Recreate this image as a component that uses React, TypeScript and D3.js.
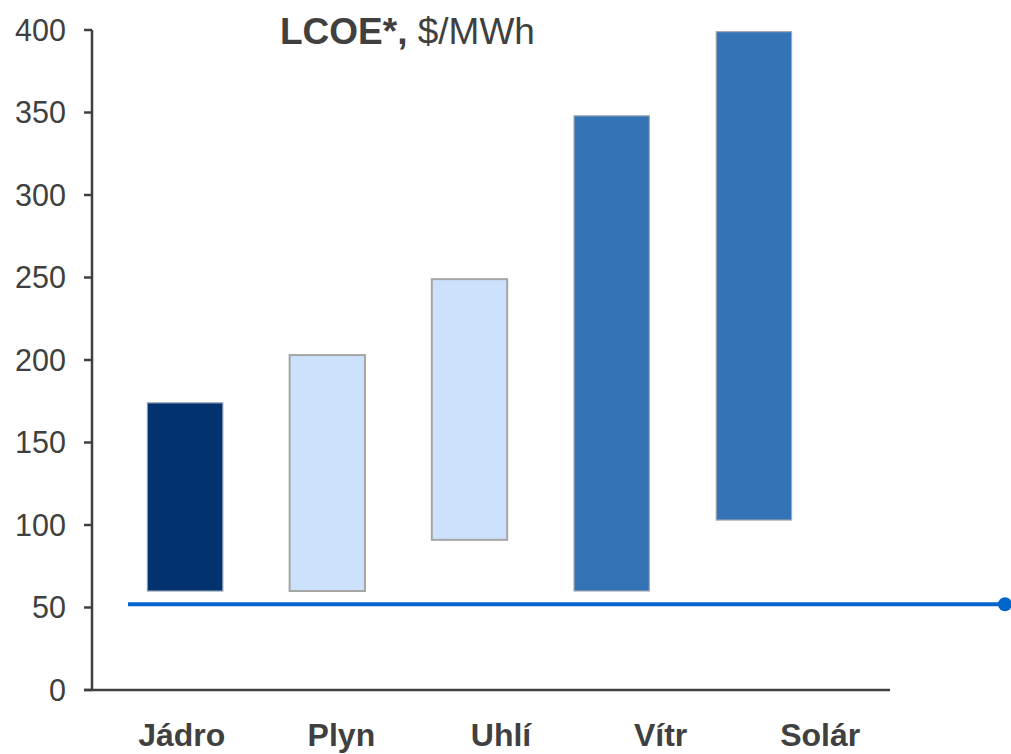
import React from "react";
import * as d3 from "d3";

const categories = ["Jádro", "Plyn", "Uhlí", "Vítr", "Solár"];
const lowValues = [60, 60, 91, 60, 103];
const highValues = [174, 203, 249, 348, 399];
const barFills = ["#02336f", "#cce1fb", "#cce1fb", "#3474b6", "#3474b6"];
const barStrokes = ["#8a9ab0", "#a6a6a6", "#a6a6a6", "#a3a8b0", "#a3a8b0"];
const yTicks = [0, 50, 100, 150, 200, 250, 300, 350, 400];
const referenceValue = 52;

const W = 1011;
const H = 754;

export default function App() {
  const y = d3.scaleLinear().domain([0, 400]).range([690, 30]);
  const xBars = d3
    .scaleBand<string>()
    .domain(categories)
    .range([114, 825])
    .paddingInner(0.47)
    .paddingOuter(0.235);
  const xLabels = d3.scaleBand<string>().domain(categories).range([102, 900]);
  const axisX = 92;
  const axisColor = "#404040";
  const font = "'Liberation Sans', Arial, sans-serif";

  return (
    <svg
      width={W}
      height={H}
      style={{ position: "absolute", left: 0, top: 0, background: "#fff" }}
    >
      {/* bars */}
      {categories.map((c, i) => (
        <rect
          key={c}
          x={xBars(c)}
          y={y(highValues[i])}
          width={xBars.bandwidth()}
          height={y(lowValues[i]) - y(highValues[i])}
          fill={barFills[i]}
          stroke={barStrokes[i]}
          strokeWidth={i === 1 || i === 2 ? 2 : 1.2}
        />
      ))}

      {/* y axis */}
      <line x1={axisX} x2={axisX} y1={y(400)} y2={y(0)} stroke={axisColor} strokeWidth={2.5} />
      {yTicks.map((t) => (
        <g key={t}>
          <line x1={axisX - 8} x2={axisX} y1={y(t)} y2={y(t)} stroke={axisColor} strokeWidth={2.5} />
          <text
            x={66}
            y={y(t)}
            dy="0.36em"
            textAnchor="end"
            fontFamily={font}
            fontSize={30.5}
            fill={axisColor}
          >
            {t}
          </text>
        </g>
      ))}

      {/* x axis */}
      <line x1={axisX - 8} x2={890} y1={y(0)} y2={y(0)} stroke={axisColor} strokeWidth={2.5} />
      {categories.map((c) => (
        <text
          key={c}
          x={(xLabels(c) as number) + xLabels.bandwidth() / 2}
          y={746}
          textAnchor="middle"
          fontFamily={font}
          fontSize={32}
          fontWeight="bold"
          fill={axisColor}
        >
          {c}
        </text>
      ))}

      {/* reference line */}
      <line
        x1={128}
        x2={1005}
        y1={y(referenceValue)}
        y2={y(referenceValue)}
        stroke="#0066cc"
        strokeWidth={4}
      />
      <circle cx={1005} cy={y(referenceValue)} r={7} fill="#0066cc" />

      {/* title */}
      <text x={280} y={44} fontFamily={font} fontSize={37} fill={axisColor}>
        <tspan fontWeight="bold">LCOE*,</tspan>
        <tspan> $/MWh</tspan>
      </text>
    </svg>
  );
}
